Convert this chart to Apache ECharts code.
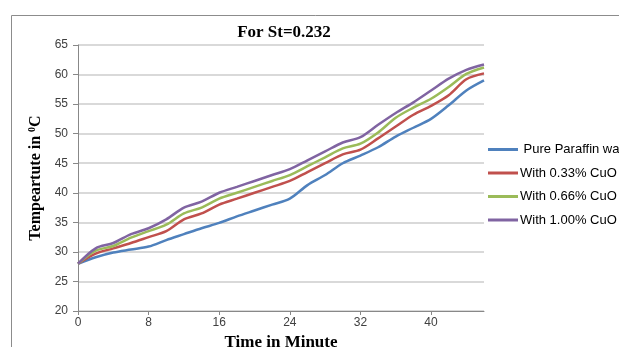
<!DOCTYPE html>
<html>
<head>
<meta charset="utf-8">
<script src="https://cdn.jsdelivr.net/npm/echarts@6/dist/echarts.min.js"></script>
<style>html,body{margin:0;padding:0;background:#fff}#c{width:619px;height:347px}</style>
</head>
<body>
<div id="c"></div>
<script>
var times = [0,2,4,6,8,10,12,14,16,18,20,22,24,26,28,30,32,34,36,38,40,42,44,46];
var pure   = [28,29.1,29.9,30.4,30.9,32.0,33.0,34.0,34.9,36.0,37.0,38.0,39.0,41.3,43.0,45.0,46.3,47.7,49.5,51.0,52.5,54.8,57.3,59.0];
var cuo033 = [28,29.7,30.6,31.5,32.5,33.5,35.5,36.5,38.0,39.0,40.0,41.0,42.0,43.5,45.0,46.5,47.3,49.2,51.2,53.2,54.7,56.5,59.2,60.2];
var cuo066 = [28,30.2,31.0,32.4,33.5,34.6,36.5,37.5,39.0,40.0,41.0,42.0,43.0,44.5,46.0,47.5,48.3,50.2,52.7,54.4,55.9,57.9,60.1,61.2];
var cuo100 = [28,30.6,31.5,33.0,34.0,35.5,37.5,38.5,40.0,41.0,42.0,43.0,44.0,45.5,47.0,48.5,49.4,51.5,53.5,55.3,57.3,59.3,60.8,61.7];
var seriesNames = [' Pure Paraffin wax','With 0.33% CuO','With 0.66% CuO','With 1.00% CuO'];
var seriesData = [pure, cuo033, cuo066, cuo100];
var colors = ['#4F81BD','#C0504D','#9BBB59','#8064A2'];

function pairs(arr){ return times.map(function(t,i){ return [t, arr[i]]; }); }

var chart = echarts.init(document.getElementById('c'));
chart.setOption({
  animation: false,
  color: colors,
  title: {
    text: 'For St=0.232',
    left: 279, top: 19, textAlign: 'center',
    textStyle: {fontFamily: 'Liberation Serif', fontWeight: 'bold', fontSize: 17, color: '#000'}
  },
  graphic: [{
    type: 'rect', left: 9, top: 13, silent: true,
    shape: {width: 700, height: 400},
    style: {fill: 'none', stroke: '#8c8c8c', lineWidth: 1}
  }],
  legend: {
    orient: 'vertical', left: 483, top: 138,
    itemWidth: 30, itemHeight: 3, itemGap: 10.5, icon: 'rect',
    textStyle: {fontFamily: 'Liberation Sans', fontSize: 13, color: '#000', padding: [0,0,0,-3]},
    data: seriesNames
  },
  grid: {left: 78, right: 135, top: 45, bottom: 36, outerBoundsMode: 'none'},
  xAxis: {
    type: 'value', min: 0, max: 46, interval: 8,
    name: 'Time in Minute', nameLocation: 'middle', nameGap: 22,
    nameTextStyle: {fontFamily: 'Liberation Serif', fontWeight: 'bold', fontSize: 17, color: '#000'},
    axisLine: {show: true, lineStyle: {color: '#888', width: 1}},
    axisTick: {show: true, length: 4, lineStyle: {color: '#888'}},
    axisLabel: {fontFamily: 'Liberation Sans', fontSize: 12, color: '#404040', margin: 6, showMaxLabel: false},
    splitLine: {show: false}
  },
  yAxis: {
    type: 'value', min: 20, max: 65, interval: 5,
    name: '{a|Tempeartute in }{s|0}{a|C}', nameLocation: 'middle', nameGap: 33, nameRotate: 90,
    nameTextStyle: {
      rich: {
        a: {fontFamily: 'Liberation Serif', fontWeight: 'bold', fontSize: 16, color: '#000'},
        s: {fontFamily: 'Liberation Serif', fontWeight: 'bold', fontSize: 10, color: '#000', verticalAlign: 'top', padding: [0,0,6,0]}
      }
    },
    axisLine: {show: true, lineStyle: {color: '#888', width: 1}},
    axisTick: {show: true, length: 5, lineStyle: {color: '#888'}},
    axisLabel: {fontFamily: 'Liberation Sans', fontSize: 12, color: '#404040', margin: 10},
    splitLine: {show: true, lineStyle: {color: '#d9d9d9', width: 2}}
  },
  series: seriesNames.map(function(n, i){
    return {
      name: n, type: 'line', data: pairs(seriesData[i]),
      smooth: 0.3, symbol: 'none',
      lineStyle: {width: 2.5, color: colors[i]}
    };
  })
});
</script>
</body>
</html>
